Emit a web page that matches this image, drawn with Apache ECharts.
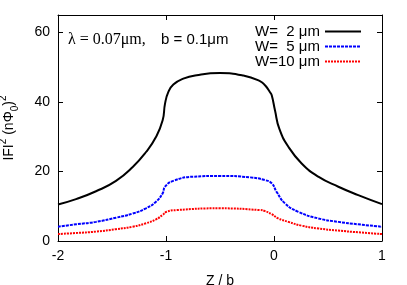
<!DOCTYPE html>
<html><head><meta charset="utf-8">
<script src="https://cdn.jsdelivr.net/npm/echarts@6/dist/echarts.min.js"></script>
<style>html,body{margin:0;padding:0;background:#fff}#c{width:407px;height:285px}</style>
</head><body><div id="c"></div>
<script>
const seriesNames = ['W=  2 \u03bcm', 'W=  5 \u03bcm', 'W=10 \u03bcm'];
const xTicks = [-2, -1, 0, 1];
const yTicks = [0, 20, 40, 60];

const zW2 = [-2.0, -1.833, -1.648, -1.463, -1.308, -1.185, -1.093, -1.031, -1.009, -0.979, -0.932, -0.84, -0.716, -0.5, -0.284, -0.13, -0.083, -0.037, -0.021, 0.009, 0.049, 0.133, 0.256, 0.41, 0.596, 0.78, 1.0];
const vW2 = [10.5, 12.05, 14.3, 17.3, 21.3, 25.6, 29.9, 34.7, 39.5, 42.8, 45.0, 46.7, 47.7, 48.3, 47.6, 46.0, 44.8, 42.8, 41.9, 37.6, 32.3, 27.1, 22.3, 18.5, 15.6, 13.2, 10.6];

const zW5 = [-2.0, -1.833, -1.648, -1.463, -1.308, -1.185, -1.093, -1.031, -1.009, -0.932, -0.747, -0.5, -0.22, -0.083, -0.021, 0.025, 0.102, 0.225, 0.41, 0.596, 0.78, 1.0];
const vW5 = [4.1, 4.8, 5.5, 6.7, 7.9, 9.4, 11.3, 13.7, 15.6, 17.3, 18.5, 18.7, 18.3, 17.5, 16.6, 14.1, 10.8, 8.4, 6.5, 5.5, 4.8, 4.1];

const zW10 = [-2.0, -1.833, -1.648, -1.463, -1.308, -1.185, -1.093, -1.031, -0.994, -0.9, -0.5, -0.13, -0.083, -0.021, 0.04, 0.133, 0.256, 0.41, 0.596, 0.78, 1.0];
const vW10 = [2.0, 2.3, 2.7, 3.4, 4.1, 5.1, 6.2, 7.5, 8.4, 8.9, 9.4, 8.9, 8.6, 7.7, 6.5, 5.5, 4.4, 3.6, 3.0, 2.5, 2.0];

const pair = (xs, ys) => xs.map((x, i) => [x, ys[i]]);
const FONT = 'Liberation Sans';

const chart = echarts.init(document.getElementById('c'), null, {renderer: 'canvas'});
const axisCommon = {
  axisLine: {show: true, onZero: false, lineStyle: {color: '#000', width: 1}},
  axisTick: {show: true, inside: true, length: 5, lineStyle: {color: '#000'}},
  splitLine: {show: false}
};
chart.setOption({
  animation: false,
  backgroundColor: '#fff',
  textStyle: {fontFamily: FONT},
  grid: {left: 58, right: 25, top: 15, bottom: 44, containLabel: false, outerBoundsMode: 'none'},
  xAxis: [
    Object.assign({type: 'value', min: xTicks[0], max: xTicks[xTicks.length - 1], interval: 1,
      name: 'Z / b', nameLocation: 'middle', nameGap: 33,
      nameTextStyle: {fontSize: 14, color: '#000', fontFamily: FONT},
      axisLabel: {fontSize: 14, color: '#000', margin: 8, fontFamily: FONT}}, axisCommon),
    Object.assign({type: 'value', position: 'top', min: xTicks[0], max: xTicks[xTicks.length - 1], interval: 1,
      axisLabel: {show: false}}, axisCommon)
  ],
  yAxis: [
    Object.assign({type: 'value', min: 0, max: 65, interval: 20,
      name: '{n|IFI}{sp|2}{n| (n\u03a6}{sb|0}{n|)}{sp|2}', nameLocation: 'middle', nameGap: 38,
      nameTextStyle: {color: '#000', fontFamily: FONT, rich: {
        n: {fontSize: 14, fontFamily: FONT, color: '#000', lineHeight: 22, verticalAlign: 'middle'},
        sp: {fontSize: 10, fontFamily: FONT, color: '#000', lineHeight: 10, verticalAlign: 'top'},
        sb: {fontSize: 10, fontFamily: FONT, color: '#000', lineHeight: 10, verticalAlign: 'bottom'}
      }},
      axisLabel: {fontSize: 14, color: '#000', margin: 8, fontFamily: FONT,
        formatter: v => (yTicks.indexOf(v) >= 0 ? String(v) : '')}}, axisCommon),
    Object.assign({type: 'value', position: 'right', min: 0, max: 65, interval: 20,
      axisLabel: {show: false}}, axisCommon)
  ],
  legend: {
    orient: 'vertical', right: 40, top: 19, align: 'right',
    itemWidth: 36, itemHeight: 14, itemGap: 0,
    itemStyle: {opacity: 0},
    textStyle: {fontSize: 15, color: '#000', fontFamily: FONT},
    data: seriesNames.map(n => ({name: n}))
  },
  graphic: [{
    type: 'text', left: 68, top: 32,
    style: {text: '\u03bb = 0.07\u03bcm,', font: '16px "Times New Roman", "Liberation Serif", "DejaVu Serif", serif', fill: '#000'}
  }, {
    type: 'text', left: 161, top: 32,
    style: {text: 'b = 0.1\u03bcm', font: '15px "Liberation Sans"', fill: '#000'}
  }],
  series: [
    {name: seriesNames[0], type: 'line', data: pair(zW2, vW2), showSymbol: false, symbol: 'none',
      smooth: 0.5, lineStyle: {color: '#000', width: 2, type: 'solid'}, itemStyle: {color: '#000'}},
    {name: seriesNames[1], type: 'line', data: pair(zW5, vW5), showSymbol: false, symbol: 'none',
      smooth: 0.5, lineStyle: {color: '#0000ff', width: 2, type: [3, 1]}, itemStyle: {color: '#0000ff'}},
    {name: seriesNames[2], type: 'line', data: pair(zW10, vW10), showSymbol: false, symbol: 'none',
      smooth: 0.5, lineStyle: {color: '#ff0000', width: 2, type: [2, 1]}, itemStyle: {color: '#ff0000'}}
  ]
});
</script></body></html>
